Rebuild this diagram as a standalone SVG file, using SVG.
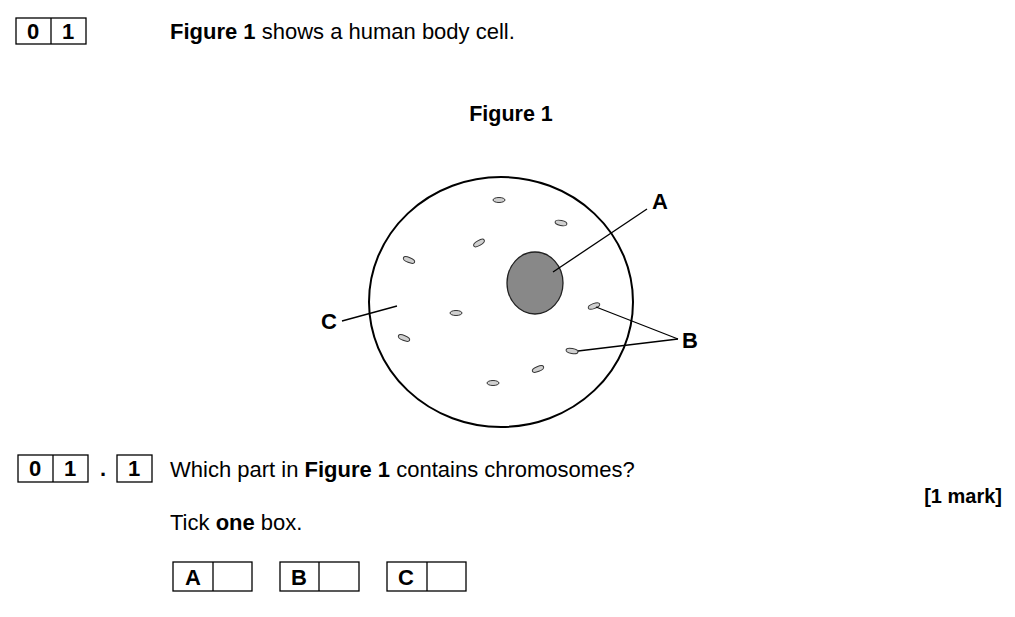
<svg xmlns="http://www.w3.org/2000/svg" width="1015" height="617" viewBox="0 0 1015 617">
<style>
text{font-family:"Liberation Sans",Arial,sans-serif;font-size:22px;fill:#000}
.b{font-weight:bold}
.box{fill:none;stroke:#000;stroke-width:1.3}
.org{fill:#d0d0d0;stroke:#333;stroke-width:1}
.ln{stroke:#000;stroke-width:1.3;fill:none}
</style>
<rect width="1015" height="617" fill="#fff"/>
<g id="qnum">
<rect class="box" x="16" y="18" width="70" height="26"/><line class="ln" x1="51" y1="18" x2="51" y2="44"/>
<text class="b" x="33" y="39" text-anchor="middle" font-size="20">0</text><text class="b" x="68" y="39" text-anchor="middle" font-size="20">1</text>
</g>
<text x="170" y="39"><tspan class="b">Figure 1</tspan> shows a human body cell.</text>
<text class="b" x="511" y="121" text-anchor="middle" style="font-size:21.5px">Figure 1</text>
<g id="cell">
<ellipse cx="501" cy="302" rx="132" ry="125" fill="none" stroke="#000" stroke-width="2"/>
</g>
<g id="nucleus"><ellipse cx="535" cy="283" rx="28" ry="31" fill="#888" stroke="#222" stroke-width="1.3"/></g>
<g id="organelles">
<ellipse class="org" cx="499" cy="200" rx="6" ry="2.5"/>
<ellipse class="org" cx="561" cy="223" rx="6" ry="2.5" transform="rotate(12 561 223)"/>
<ellipse class="org" cx="479" cy="243" rx="6" ry="2.5" transform="rotate(-30 479 243)"/>
<ellipse class="org" cx="409" cy="260" rx="6" ry="2.5" transform="rotate(22 409 260)"/>
<ellipse class="org" cx="456" cy="313" rx="6" ry="2.5"/>
<ellipse class="org" cx="594" cy="306" rx="6" ry="2.5" transform="rotate(-20 594 306)"/>
<ellipse class="org" cx="404" cy="338" rx="6" ry="2.5" transform="rotate(22 404 338)"/>
<ellipse class="org" cx="572" cy="351" rx="6" ry="2.5" transform="rotate(10 572 351)"/>
<ellipse class="org" cx="538" cy="369" rx="6" ry="2.5" transform="rotate(-22 538 369)"/>
<ellipse class="org" cx="493" cy="383" rx="6" ry="2.5"/>
</g>
<g id="connectors">
<line class="ln" x1="553" y1="272" x2="647" y2="209"/>
<line class="ln" x1="596" y1="307" x2="678" y2="339"/>
<line class="ln" x1="578" y1="351" x2="678" y2="339"/>
<line class="ln" x1="342" y1="321" x2="397" y2="306"/>
</g>
<g id="labels">
<text class="b" x="652" y="209">A</text>
<text class="b" x="682" y="348">B</text>
<text class="b" x="321" y="329">C</text>
</g>
<g id="qnum2">
<rect class="box" x="18" y="455" width="70" height="27"/><line class="ln" x1="53" y1="455" x2="53" y2="482"/>
<text class="b" x="35" y="476" text-anchor="middle" font-size="20">0</text><text class="b" x="70" y="476" text-anchor="middle" font-size="20">1</text>
<text class="b" x="103" y="476" text-anchor="middle" font-size="20">.</text>
<rect class="box" x="117" y="455" width="35" height="27"/>
<text class="b" x="134" y="476" text-anchor="middle" font-size="20">1</text>
</g>
<text x="170" y="477">Which part in <tspan class="b">Figure 1</tspan> contains chromosomes?</text>
<text class="b" x="1002" y="503" text-anchor="end" style="font-size:20px">[1 mark]</text>
<text x="170" y="530">Tick <tspan class="b">one</tspan> box.</text>
<g id="optA"><rect class="box" x="173" y="562" width="79" height="29"/><line class="ln" x1="213" y1="562" x2="213" y2="591"/><text class="b" x="193" y="585" text-anchor="middle">A</text></g>
<g id="optB"><rect class="box" x="280" y="562" width="79" height="29"/><line class="ln" x1="319" y1="562" x2="319" y2="591"/><text class="b" x="299" y="585" text-anchor="middle">B</text></g>
<g id="optC"><rect class="box" x="387" y="562" width="79" height="29"/><line class="ln" x1="427" y1="562" x2="427" y2="591"/><text class="b" x="406" y="585" text-anchor="middle">C</text></g>
</svg>
